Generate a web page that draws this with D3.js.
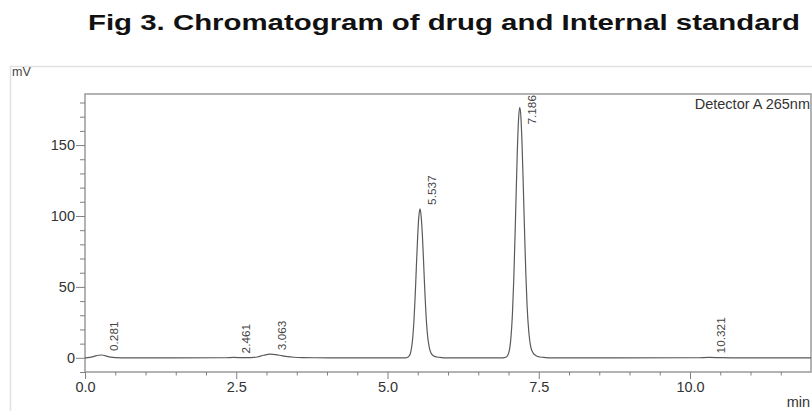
<!DOCTYPE html>
<html>
<head>
<meta charset="utf-8">
<script src="https://cdn.jsdelivr.net/npm/d3@7/dist/d3.min.js"></script>
<style>
  html, body { margin: 0; padding: 0; background: #fff; }
  svg { display: block; }
</style>
</head>
<body>
<svg id="chart" width="812" height="411"></svg>
<script>
// ---- data ----
const titleText = "Fig 3. Chromatogram of drug and Internal standard";
const detectorText = "Detector A 265nm";
const yUnit = "mV";
const xUnit = "min";

const xMajorTicks = [0, 2.5, 5.0, 7.5, 10.0];
const xMinorTicks = [0.5, 1, 1.5, 2, 3, 3.5, 4, 4.5, 5.5, 6, 6.5, 7, 8, 8.5, 9, 9.5, 10.5, 11, 11.5];
const yMajorTicks = [0, 50, 100, 150];
const yMinorTicks = [-10, 10, 20, 30, 40, 60, 70, 80, 90, 110, 120, 130, 140, 160, 170, 180];

// chromatogram trace: retention time (min) and signal (mV)
const traceTime = [
  0, 0.08, 0.15, 0.22, 0.281, 0.34, 0.42, 0.5, 0.6,
  2.3, 2.461, 2.6, 2.75, 2.85, 2.95, 3.063, 3.15, 3.25, 3.35, 3.45, 3.6, 3.8, 4.3,
  5.3, 5.357, 5.387, 5.417, 5.437, 5.457, 5.477, 5.497, 5.517, 5.537, 5.557, 5.577, 5.597,
  5.617, 5.637, 5.657, 5.687, 5.717, 5.757, 5.817, 5.887, 5.987,
  6.9, 6.966, 7.006, 7.036, 7.066, 7.086, 7.106, 7.126, 7.146, 7.166, 7.186, 7.206, 7.226,
  7.246, 7.266, 7.286, 7.306, 7.336, 7.366, 7.406, 7.456, 7.516, 7.606, 7.736,
  10.1, 10.321, 10.5, 10.7, 12
];
const traceMv = [
  0, 0.3, 1.0, 1.8, 2.0, 1.4, 0.5, 0.1, 0,
  0.05, 0.3, 0.1, 0.15, 0.6, 1.8, 2.6, 2.3, 1.5, 0.8, 0.4, 0.15, 0.05, 0,
  0, 1.2, 4.6, 14, 26, 43, 64, 84, 99, 105, 99.5, 86, 67,
  47, 30, 18, 8, 3.5, 1.5, 0.6, 0.2, 0,
  0, 0.6, 3.8, 12.3, 32, 54, 83, 115, 146, 168, 176.5, 169, 148,
  119, 88, 60, 38, 18, 8, 3.5, 1.5, 0.6, 0.2, 0,
  0.05, 0.3, 0.1, 0, 0
];

// peak labels
const peakLabels = ["0.281", "2.461", "3.063", "5.537", "7.186", "10.321"];
const peakTimes = [0.281, 2.461, 3.063, 5.537, 7.186, 10.321];
const peakHeights = [2.0, 0.3, 2.6, 105, 176.5, 0.3];

// ---- drawing ----
const svg = d3.select("#chart");
const W = 812, H = 411;
const plot = { left: 85, right: 811, top: 94, bottom: 372 };

const x = d3.scaleLinear().domain([0, 12]).range([plot.left, plot.right]);
const y = d3.scaleLinear().domain([-10, 186]).range([plot.bottom, plot.top]);

const font = "'Liberation Sans', Arial, Helvetica, sans-serif";

// outer light panel frame
svg.append("rect")
  .attr("x", 10.5).attr("y", 66.5)
  .attr("width", W).attr("height", H)
  .attr("fill", "none").attr("stroke", "#e2e2e2").attr("stroke-width", 1.5);

// title
svg.append("text")
  .attr("x", 88).attr("y", 29.5)
  .attr("textLength", 712).attr("lengthAdjust", "spacingAndGlyphs")
  .style("font-family", font).style("font-weight", "bold").style("font-size", "22px")
  .attr("fill", "#111")
  .text(titleText);

// plot frame
svg.append("rect")
  .attr("x", plot.left).attr("y", plot.top)
  .attr("width", plot.right - plot.left).attr("height", plot.bottom - plot.top)
  .attr("fill", "none").attr("stroke", "#9a9a9a").attr("stroke-width", 1.5);

// axes
function styleAxis(g) {
  g.select(".domain").remove();
  g.selectAll(".tick line").attr("stroke", "#808080").attr("stroke-width", 1);
  g.selectAll(".tick text")
    .style("font-family", font).style("font-size", "14.5px").attr("fill", "#333");
}

svg.append("g").attr("transform", `translate(0,${plot.bottom})`)
  .call(d3.axisBottom(x).tickValues(xMinorTicks).tickSize(3.5).tickFormat(""))
  .call(styleAxis);
svg.append("g").attr("transform", `translate(0,${plot.bottom})`)
  .call(d3.axisBottom(x).tickValues(xMajorTicks).tickSize(7).tickPadding(3).tickFormat(d3.format(".1f")))
  .call(styleAxis);

svg.append("g").attr("transform", `translate(${plot.left},0)`)
  .call(d3.axisLeft(y).tickValues(yMinorTicks).tickSize(5).tickFormat(""))
  .call(styleAxis);
svg.append("g").attr("transform", `translate(${plot.left},0)`)
  .call(d3.axisLeft(y).tickValues(yMajorTicks).tickSize(9).tickPadding(1).tickFormat(d3.format("d")))
  .call(styleAxis);

// unit labels
svg.append("text").attr("x", 12).attr("y", 76)
  .style("font-family", font).style("font-size", "12.5px").attr("fill", "#444")
  .text(yUnit);
svg.append("text").attr("x", 810).attr("y", 407).attr("text-anchor", "end")
  .style("font-family", font).style("font-size", "14.5px").attr("fill", "#333")
  .text(xUnit);

// detector label
svg.append("text").attr("x", 810).attr("y", 109).attr("text-anchor", "end")
  .style("font-family", font).style("font-size", "14.5px").attr("fill", "#333")
  .text(detectorText);

// trace
const pts = traceTime.map((t, i) => [t, traceMv[i]]);
const line = d3.line().x(d => x(d[0])).y(d => y(d[1])).curve(d3.curveMonotoneX);
svg.append("path")
  .datum(pts)
  .attr("d", line)
  .attr("fill", "none").attr("stroke", "#5a5a5a").attr("stroke-width", 1.2);

// peak labels (rotated)
const labelSize = 11.8;
peakLabels.forEach((lab, i) => {
  const px = x(peakTimes[i]) + 16;
  const t = svg.append("text")
    .style("font-family", font).style("font-size", labelSize + "px").attr("fill", "#444")
    .text(lab);
  const len = t.node().getComputedTextLength();
  let start = y(peakHeights[i]) - 4;
  if (start - len < plot.top + 1) start = plot.top + 1 + len;
  t.attr("transform", `translate(${px},${start}) rotate(-90)`);
});
</script>
</body>
</html>
